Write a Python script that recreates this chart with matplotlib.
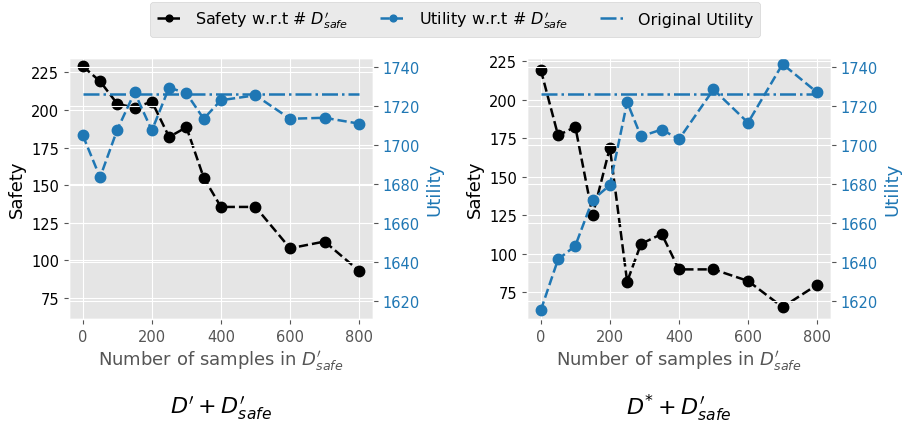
import numpy as np
import matplotlib
matplotlib.use("Agg")
import matplotlib.pyplot as plt

plt.style.use('ggplot')

# D' + D'_safe
samples_a = [0, 50, 100, 150, 200, 250, 300, 350, 400, 500, 600, 700, 800]
safety_a = [229, 219, 204, 201.5, 205.5, 182, 188.5, 155, 135.5, 135.5, 108, 112.5, 93]
utility_a = [1705, 1683.5, 1708, 1727, 1707.5, 1729.5, 1726.5, 1713.5, 1723, 1725.5, 1713.5, 1714, 1711]

# D* + D'_safe
samples_b = [0, 50, 100, 150, 200, 250, 290, 350, 400, 500, 600, 700, 800]
safety_b = [219.5, 177, 182.5, 125, 169, 82, 106.5, 113, 90, 90, 82.5, 65.5, 80]
utility_b = [1615.5, 1641.5, 1648.5, 1672, 1679.5, 1722, 1704.5, 1708, 1703, 1728.5, 1711.5, 1741.5, 1727]

original_utility = 1726
titles = [r"$D^{\prime} + D^{\prime}_{safe}$", r"$D^{*} + D^{\prime}_{safe}$"]

blue = '#1f77b4'

fig = plt.figure(figsize=(9.1, 4.27), dpi=100)
ax1 = fig.add_axes([0.0758, 0.2506, 0.334, 0.6112])
ax2 = fig.add_axes([0.5791, 0.2506, 0.334, 0.6112])

data = [(ax1, samples_a, safety_a, utility_a, (61, 234.5)),
        (ax2, samples_b, safety_b, utility_b, None)]

for (ax, xs, saf, util, ylim), title in zip(data, titles):
    l1, = ax.plot(xs, saf, 'k--o', markersize=7.5, linewidth=1.8,
                  label=r"Safety w.r.t # $D^{\prime}_{safe}$")
    if ylim is not None:
        ax.set_ylim(*ylim)
    ax.set_ylabel('Safety', color='black', fontsize=13)
    ax.set_xlabel(r"Number of samples in $D^{\prime}_{safe}$", fontsize=13)
    ax.tick_params(axis='y', labelcolor='black', labelsize=10.5)
    ax.tick_params(axis='x', labelsize=10.5)
    ax.set_xticks([0, 200, 400, 600, 800])

    ax_t = ax.twinx()
    l2, = ax_t.plot(xs, util, '--o', color=blue, markersize=7.5, linewidth=1.8,
                    label=r"Utility w.r.t # $D^{\prime}_{safe}$")
    l3, = ax_t.plot([xs[0], xs[-1]], [original_utility, original_utility], '-.',
                    color=blue, linewidth=1.8, label='Original Utility')
    ax_t.set_ylim(1611, 1744.6)
    ax_t.set_yticks([1620, 1640, 1660, 1680, 1700, 1720, 1740])
    ax_t.set_ylabel('Utility', color=blue, fontsize=13)
    ax_t.tick_params(axis='y', labelcolor=blue, labelsize=10.5)

    ax.text(0.5, -0.34, title, transform=ax.transAxes, ha='center', va='center',
            fontsize=16)

fig.legend(handles=[l1, l2, l3], loc='upper center', ncol=3,
           bbox_to_anchor=(0.5, 1.0), fontsize=11.5, frameon=True,
           handlelength=1.6, markerscale=0.65, borderaxespad=0.2)

fig.savefig('out.png', dpi=100)
